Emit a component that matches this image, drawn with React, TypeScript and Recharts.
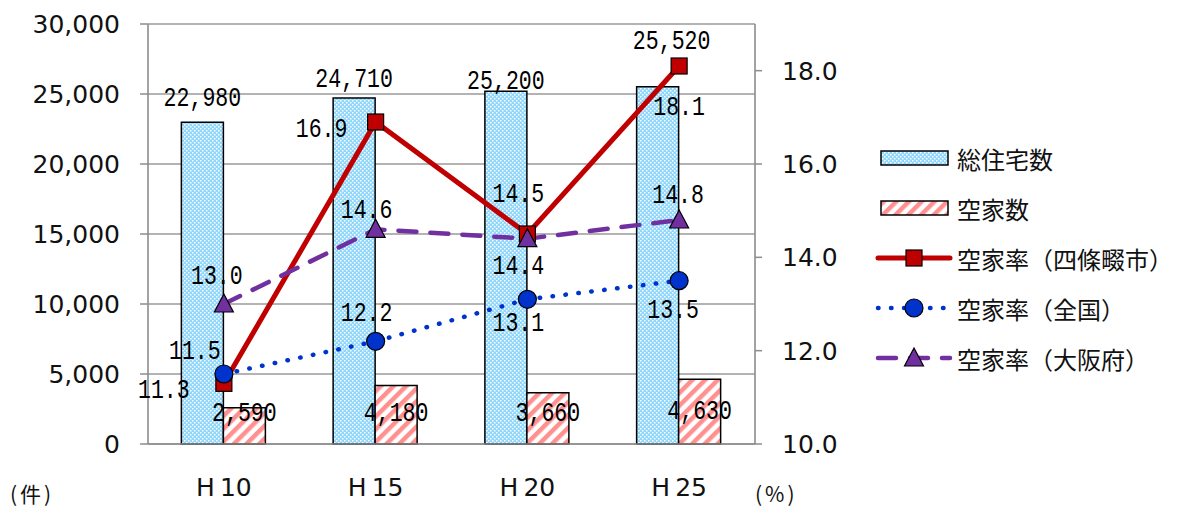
import React from "react";
import {
  ComposedChart, Bar, Line, XAxis, YAxis, CartesianGrid, LabelList,
} from "recharts";

const categories = ["H10", "H15", "H20", "H25"];
const totalHouses = [22980, 24710, 25200, 25520];
const vacantHouses = [2590, 4180, 3660, 4630];
const rateShijonawate = [11.3, 16.9, 14.5, 18.1];
const rateNational = [11.5, 12.2, 13.1, 13.5];
const rateOsaka = [13.0, 14.6, 14.4, 14.8];
const leftTicks = [0, 5000, 10000, 15000, 20000, 25000, 30000];
const rightTicks = [10, 12, 14, 16, 18];

const data = categories.map((c, i) => ({
  name: c,
  total: totalHouses[i],
  vacant: vacantHouses[i],
  shijonawate: rateShijonawate[i],
  national: rateNational[i],
  osaka: rateOsaka[i],
}));

// label nudges (dx, dy) relative to anchor, hand-placed like the original
const totalNudge: [number, number][] = [[0, -24], [0, -18], [0, -9], [14, -45]];
const vacantNudge: [number, number][] = [[0, -30], [0, -30], [0, -30], [0, -32]];
const shijoNudge: [number, number][] = [[-60, 7], [-54, 8], [-9, -39], [0, 42]];
const nationalNudge: [number, number][] = [[-29, -22], [-9, -28], [-9, 24], [-6, 30]];
const osakaNudge: [number, number][] = [[-7, -27], [-9, -19], [-9, 28], [-1, -24]];

const RED = "#c00000";
const BLUE = "#0033cc";
const PURPLE = "#7030a0";
const AXIS = "#8c8c8c";
const TICK_FONT = "'DejaVu Sans', Verdana, sans-serif";
const CJK_FONT = "'Noto Sans CJK JP', sans-serif";

const fmtInt = (v: number) => v.toLocaleString("en-US");
const fmtRate = (v: number) => Number(v).toFixed(1);

function makeLabel(nudge: [number, number][], fmt: (v: number) => string, mode: "top" | "bottom" | "point") {
  return (props: any) => {
    const vb = props.viewBox || {};
    const x = Number(vb.x ?? props.x);
    const y = Number(vb.y ?? props.y);
    const w = Number(vb.width ?? props.width ?? 0) || 0;
    const h = Number(vb.height ?? props.height ?? 0) || 0;
    const [dx, dy] = nudge[props.index] ?? [0, 0];
    let cx = x;
    let cy = y;
    if (mode === "top") { cx = x + w / 2; cy = y; }
    if (mode === "bottom") { cx = x + w / 2; cy = y + h; }
    return (
      <text
        transform={`translate(${cx + dx},${cy + dy}) scale(0.77,1)`}
        textAnchor="middle"
        dominantBaseline="central"
        fontFamily="'Liberation Mono', 'DejaVu Sans Mono', monospace"
        fontSize={28}
        fill="#000"
      >
        {fmt(props.value)}
      </text>
    );
  };
}

const SquareDot = (p: any) => (
  <rect key={`s${p.index}`} x={p.cx - 8} y={p.cy - 8} width={16} height={16} fill={RED} stroke="#000" strokeWidth={1.2} />
);
const CircleDot = (p: any) => (
  <circle key={`c${p.index}`} cx={p.cx} cy={p.cy} r={9} fill={BLUE} stroke="#000" strokeWidth={1.2} />
);
const TriDot = (p: any) => (
  <polygon
    key={`t${p.index}`}
    points={`${p.cx},${p.cy - 10} ${p.cx - 9.5},${p.cy + 8} ${p.cx + 9.5},${p.cy + 8}`}
    fill={PURPLE}
    stroke="#000"
    strokeWidth={1.2}
  />
);

const CategoryTick = (p: any) => {
  const label: string = p.payload.value;
  return (
    <text x={p.x} y={p.y + 43} textAnchor="middle" dominantBaseline="central" fontFamily={TICK_FONT} fontSize={25} fill="#111">
      <tspan>{label.slice(0, 1)}</tspan>
      <tspan dx={5}>{label.slice(1)}</tspan>
    </text>
  );
};

const Patterns = () => (
  <defs>
    <pattern id="dotsBlue" width={4} height={4} patternUnits="userSpaceOnUse">
      <rect width={4} height={4} fill="#8fd8fc" />
      <rect x={0} y={0} width={1.5} height={1.5} fill="#ffffff" />
      <rect x={2} y={2} width={1.5} height={1.5} fill="#ffffff" />
    </pattern>
    <pattern id="stripesPink" width={9} height={9} patternUnits="userSpaceOnUse" patternTransform="rotate(45)">
      <rect width={9} height={9} fill="#ffffff" />
      <rect x={0} y={0} width={4.5} height={9} fill="#ff9090" />
    </pattern>
  </defs>
);

const legendItems = [
  { label: "総住宅数", kind: "dots" },
  { label: "空家数", kind: "stripes" },
  { label: "空家率（四條畷市）", kind: "red" },
  { label: "空家率（全国）", kind: "blue" },
  { label: "空家率（大阪府）", kind: "purple" },
];

const LegendIcon = ({ kind, y }: { kind: string; y: number }) => {
  const x0 = 878;
  const x1 = 950;
  const cx = 914;
  if (kind === "dots" || kind === "stripes") {
    return (
      <rect x={881} y={y - 7} width={67} height={14}
        fill={kind === "dots" ? "url(#dotsBlue)" : "url(#stripesPink)"} stroke="#000" strokeWidth={1.5} />
    );
  }
  if (kind === "red") {
    return (
      <g>
        <line x1={x0} y1={y} x2={x1} y2={y} stroke={RED} strokeWidth={5} strokeLinecap="round" />
        <SquareDot cx={cx} cy={y} index={0} />
      </g>
    );
  }
  if (kind === "blue") {
    return (
      <g>
        <line x1={x0} y1={y} x2={x1} y2={y} stroke={BLUE} strokeWidth={4.5} strokeDasharray="0.5 12.5" strokeLinecap="round" />
        <CircleDot cx={cx} cy={y} index={0} />
      </g>
    );
  }
  return (
    <g>
      <line x1={x0} y1={y} x2={x1} y2={y} stroke={PURPLE} strokeWidth={4.5} strokeDasharray="18 14" strokeLinecap="round" />
      <TriDot cx={cx} cy={y} index={0} />
    </g>
  );
};

export default function App() {
  return (
    <div style={{ position: "absolute", left: 0, top: 0, width: 1180, height: 510, background: "#fff" }}>
      <ComposedChart
        width={1180}
        height={510}
        data={data}
        margin={{ top: 24, right: 345, bottom: 6, left: 8 }}
        barCategoryGap="22%"
        barGap={0}
      >
        <Patterns />
        <CartesianGrid yAxisId="left" xAxisId="cat" vertical={false} stroke="#9a9a9a" strokeWidth={1.6} />
        <XAxis
          xAxisId="grid"
          type="number"
          domain={[0, 4]}
          ticks={[0, 1, 2, 3, 4]}
          allowDataOverflow
          tick={false}
          axisLine={false}
          tickSize={10}
          tickLine={{ stroke: AXIS, strokeWidth: 1.5 }}
          height={0}
        />
        <XAxis
          xAxisId="cat"
          dataKey="name"
          height={60}
          tickSize={0}
          tickMargin={0}
          tickLine={false}
          axisLine={{ stroke: AXIS, strokeWidth: 1.6 }}
          tick={<CategoryTick />}
        />
        <YAxis
          yAxisId="left"
          width={140}
          domain={[0, 30000]}
          ticks={leftTicks}
          tickFormatter={fmtInt}
          tickSize={8}
          tickMargin={20}
          axisLine={{ stroke: AXIS, strokeWidth: 1.6 }}
          tickLine={{ stroke: AXIS, strokeWidth: 1.5 }}
          tick={{ fontFamily: TICK_FONT, fontSize: 25, fill: "#111" }}
        />
        <YAxis
          yAxisId="right"
          orientation="right"
          width={80}
          domain={[10, 19]}
          ticks={rightTicks}
          tickFormatter={fmtRate}
          tickSize={7}
          tickMargin={20}
          axisLine={{ stroke: AXIS, strokeWidth: 1.6 }}
          tickLine={{ stroke: AXIS, strokeWidth: 1.5 }}
          tick={{ fontFamily: TICK_FONT, fontSize: 25, fill: "#111", textAnchor: "start" }}
        />
        <Bar xAxisId="cat" yAxisId="left" dataKey="total" fill="url(#dotsBlue)" stroke="#000" strokeWidth={1.5} isAnimationActive={false}>
          <LabelList dataKey="total" content={makeLabel(totalNudge, fmtInt, "top")} />
        </Bar>
        <Bar xAxisId="cat" yAxisId="left" dataKey="vacant" fill="url(#stripesPink)" stroke="#000" strokeWidth={1.5} isAnimationActive={false}>
          <LabelList dataKey="vacant" content={makeLabel(vacantNudge, fmtInt, "bottom")} />
        </Bar>
        <Line xAxisId="cat" yAxisId="right" dataKey="shijonawate" stroke={RED} strokeWidth={5} dot={SquareDot} activeDot={false} isAnimationActive={false}>
          <LabelList dataKey="shijonawate" content={makeLabel(shijoNudge, fmtRate, "point")} />
        </Line>
        <Line xAxisId="cat" yAxisId="right" dataKey="national" stroke={BLUE} strokeWidth={4.5} strokeDasharray="0.5 12.5" strokeLinecap="round" dot={CircleDot} activeDot={false} isAnimationActive={false}>
          <LabelList dataKey="national" content={makeLabel(nationalNudge, fmtRate, "point")} />
        </Line>
        <Line xAxisId="cat" yAxisId="right" dataKey="osaka" stroke={PURPLE} strokeWidth={4.5} strokeDasharray="18 14" strokeLinecap="round" dot={TriDot} activeDot={false} isAnimationActive={false}>
          <LabelList dataKey="osaka" content={makeLabel(osakaNudge, fmtRate, "point")} />
        </Line>
      </ComposedChart>
      <svg width={1180} height={510} style={{ position: "absolute", left: 0, top: 0, pointerEvents: "none" }}>
        {legendItems.map((item, i) => {
          const y = 158 + i * 50;
          return (
            <g key={item.label}>
              <LegendIcon kind={item.kind} y={y} />
              <text x={957} y={y} dominantBaseline="central" fontFamily={CJK_FONT} fontSize={24} fill="#111">
                {item.label}
              </text>
            </g>
          );
        })}
        <text x={10} y={493} dominantBaseline="central" fontFamily={CJK_FONT} fontSize={21} letterSpacing={3} fill="#111">(件)</text>
        <text x={755} y={493} dominantBaseline="central" fontFamily={CJK_FONT} fontSize={21} letterSpacing={3} fill="#111">(%)</text>
      </svg>
    </div>
  );
}
